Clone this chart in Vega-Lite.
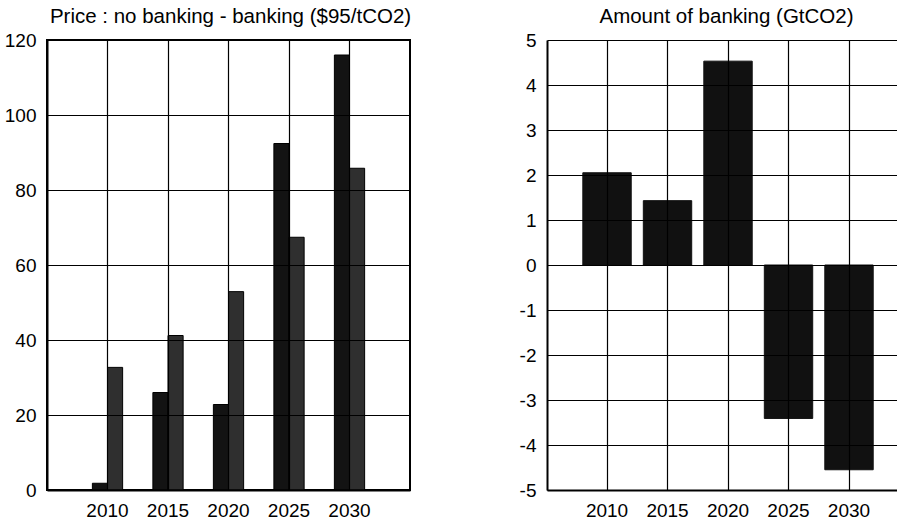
{
  "$schema": "https://vega.github.io/schema/vega-lite/v6.json",
  "padding": {"left": 3, "top": 5, "right": 0, "bottom": 0},
  "background": "white",
  "config": {
    "font": "Liberation Sans",
    "view": {"stroke": "black", "strokeWidth": 2},
    "axis": {
      "grid": true,
      "gridColor": "black",
      "gridOpacity": 1,
      "gridWidth": 1.2,
      "domainColor": "black",
      "domainWidth": 2,
      "ticks": false,
      "labelFont": "Liberation Sans",
      "labelFontSize": 19,
      "labelColor": "black",
      "labelPadding": 11,
      "title": null,
      "zindex": 1
    },
    "title": {"font": "Liberation Sans", "fontSize": 20.5, "fontWeight": "normal", "color": "black", "offset": 4},
    "concat": {"spacing": 106}
  },
  "datasets": {
    "price": [
      {"year": "2010", "series": "no banking", "price": 1.8},
      {"year": "2010", "series": "banking", "price": 32.7},
      {"year": "2015", "series": "no banking", "price": 26.0},
      {"year": "2015", "series": "banking", "price": 41.2},
      {"year": "2020", "series": "no banking", "price": 22.8},
      {"year": "2020", "series": "banking", "price": 52.9},
      {"year": "2025", "series": "no banking", "price": 92.4},
      {"year": "2025", "series": "banking", "price": 67.4},
      {"year": "2030", "series": "no banking", "price": 116.0},
      {"year": "2030", "series": "banking", "price": 85.8}
    ],
    "amount": [
      {"year": "2010", "amount": 2.05},
      {"year": "2015", "amount": 1.43},
      {"year": "2020", "amount": 4.53},
      {"year": "2025", "amount": -3.41},
      {"year": "2030", "amount": -4.55}
    ]
  },
  "hconcat": [
    {
      "title": {"text": "Price : no banking - banking ($95/tCO2)", "dx": 2},
      "width": 363,
      "height": 450,
      "data": {"name": "price"},
      "mark": {"type": "bar", "stroke": "black", "strokeWidth": 1},
      "encoding": {
        "x": {
          "field": "year",
          "type": "ordinal",
          "scale": {"paddingInner": 0.5, "paddingOuter": 0.75},
          "axis": {"labelAngle": 0, "bandPosition": 0.5, "grid": true, "zindex": 1}
        },
        "xOffset": {
          "field": "series",
          "type": "nominal",
          "sort": ["no banking", "banking"],
          "scale": {"paddingInner": 0, "paddingOuter": 0}
        },
        "y": {
          "field": "price",
          "type": "quantitative",
          "scale": {"domain": [0, 120], "nice": false},
          "axis": {"values": [0, 20, 40, 60, 80, 100, 120], "grid": true, "zindex": 1}
        },
        "color": {
          "field": "series",
          "type": "nominal",
          "scale": {"domain": ["no banking", "banking"], "range": ["#131313", "#2f2f2f"]},
          "legend": null
        }
      }
    },
    {
      "title": {"text": "Amount of banking (GtCO2)", "dx": 4},
      "width": 351,
      "height": 450,
      "view": {"stroke": null},
      "data": {"name": "amount"},
      "mark": {"type": "bar", "color": "#111111", "stroke": "#111111", "strokeWidth": 1},
      "encoding": {
        "x": {
          "field": "year",
          "type": "ordinal",
          "scale": {"paddingInner": 0.2, "paddingOuter": 0.501, "align": 0.591},
          "axis": {"labelAngle": 0, "bandPosition": 0.5, "grid": true, "zindex": 1}
        },
        "y": {
          "field": "amount",
          "type": "quantitative",
          "scale": {"domain": [-5, 5], "nice": false},
          "axis": {"values": [-5, -4, -3, -2, -1, 0, 1, 2, 3, 4, 5], "labelExpr": "'' + datum.value", "grid": true, "zindex": 1}
        }
      }
    }
  ]
}
